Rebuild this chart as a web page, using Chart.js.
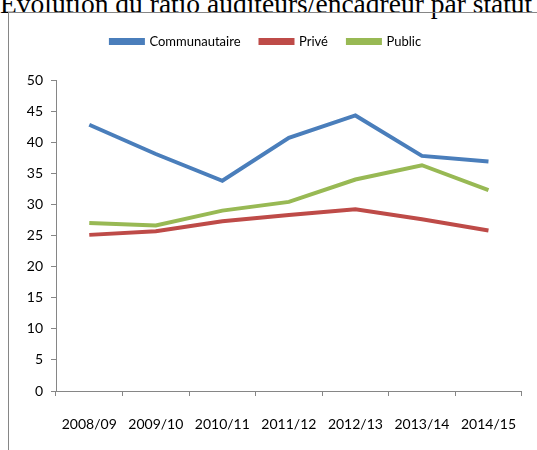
<!DOCTYPE html>
<html>
<head>
<meta charset="utf-8">
<script src="https://cdn.jsdelivr.net/npm/chart.js@4.4.0/dist/chart.umd.min.js"></script>
<style>
    body { margin: 0; width: 537px; height: 450px; overflow: hidden; background: #fff; position: relative; }
    #title { position: absolute; left: 0; top: -10px; white-space: nowrap; font-family: 'Liberation Serif', 'Times New Roman', serif; font-size: 27.5px; line-height: 27.5px; color: #000; }
    #box { position: absolute; left: 8px; top: 12px; width: 540px; height: 450px; border: 1px solid #868686; box-sizing: border-box; }
    #wrap { position: absolute; left: 9px; top: 15px; width: 528px; height: 435px; }
</style>
</head>
<body>
<div id="title">Évolution du ratio auditeurs/encadreur par statut</div>
<div id="box"></div>
<div id="wrap"><canvas id="ratioChart"></canvas></div>
<script>
const years = ['2008/09', '2009/10', '2010/11', '2011/12', '2012/13', '2013/14', '2014/15'];
const communautaire = [42.8, 38.1, 33.8, 40.7, 44.3, 37.8, 36.9];
const prive = [25.1, 25.7, 27.3, 28.3, 29.2, 27.6, 25.8];
const publicVals = [27.0, 26.6, 29.0, 30.4, 34.0, 36.3, 32.3];

const axisColor = '#868686';
const labelFont = { family: 'Lato', size: 14 };

// extra room under the legend, like the Excel layout
const legendSpacer = {
    id: 'legendSpacer',
    beforeInit(chart) {
        const fit = chart.legend.fit;
        chart.legend.fit = function() {
            fit.bind(chart.legend)();
            this.height += 22;
        };
    }
};

const ctx = document.getElementById('ratioChart').getContext('2d');

const chartData = {
    labels: years,
    datasets: [
        {
            label: 'Communautaire',
            data: communautaire,
            borderColor: '#4A7EBB',
            backgroundColor: '#4A7EBB',
            borderWidth: 4,
            pointRadius: 0,
            tension: 0
        },
        {
            label: 'Privé',
            data: prive,
            borderColor: '#BE4B48',
            backgroundColor: '#BE4B48',
            borderWidth: 4,
            pointRadius: 0,
            tension: 0
        },
        {
            label: 'Public',
            data: publicVals,
            borderColor: '#98B954',
            backgroundColor: '#98B954',
            borderWidth: 4,
            pointRadius: 0,
            tension: 0
        }
    ]
};

const chartOptions = {
    responsive: true,
    maintainAspectRatio: false,
    animation: false,
    layout: { padding: { top: 0, right: 14, bottom: 0, left: 0 } },
    plugins: {
        legend: {
            position: 'top',
            labels: {
                boxWidth: 32,
                boxHeight: 3,
                padding: 20,
                color: '#000',
                font: { family: 'Lato', size: 13 }
            }
        },
        tooltip: { enabled: false }
    },
    scales: {
        x: {
            type: 'category',
            offset: true,
            grid: {
                offset: true,
                drawOnChartArea: false,
                tickLength: 5,
                color: axisColor
            },
            border: { color: axisColor },
            ticks: {
                color: '#000',
                font: labelFont,
                padding: 20,
                maxRotation: 0,
                autoSkip: false
            },
            afterFit: function(scale) { scale.height = 59; }
        },
        y: {
            min: 0,
            max: 50,
            grid: {
                drawOnChartArea: false,
                tickLength: 5,
                color: axisColor
            },
            border: { color: axisColor },
            ticks: {
                stepSize: 5,
                color: '#000',
                font: labelFont,
                padding: 8
            },
            afterFit: function(scale) { scale.width = 47; }
        }
    }
};

new Chart(ctx, {
    type: 'line',
    data: chartData,
    options: chartOptions,
    plugins: [legendSpacer]
});
</script>
</body>
</html>
